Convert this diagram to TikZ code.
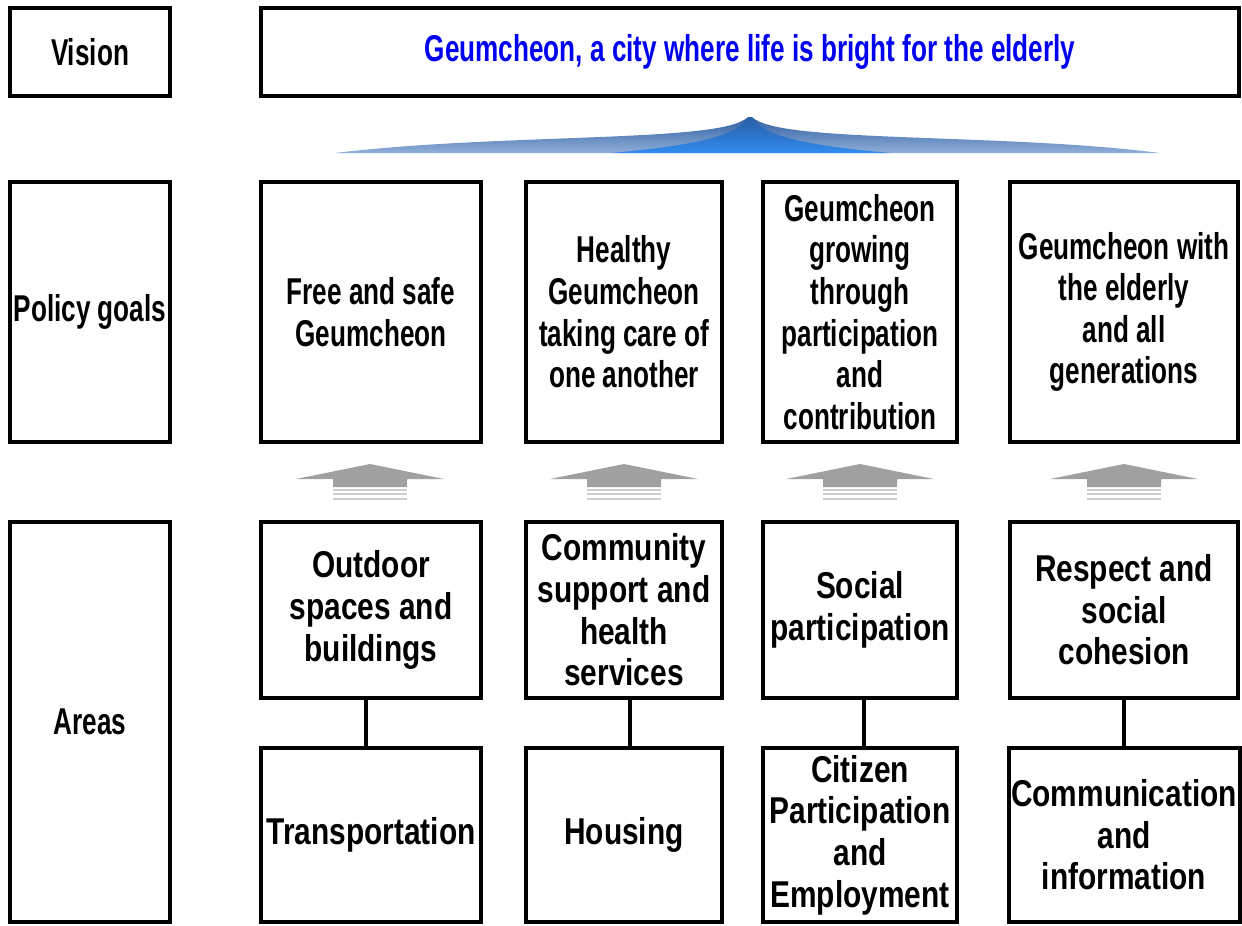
\documentclass[tikz,border=0pt]{standalone}
\usepackage{fontspec}
\newfontfamily\headfont[FakeStretch=0.70]{Liberation Sans Bold}
\newfontfamily\areafont[FakeStretch=0.80]{Liberation Sans Bold}
\usetikzlibrary{positioning}
\definecolor{visionblue}{RGB}{0, 0, 240}
\definecolor{swooshblue}{RGB}{50, 140, 240}
\definecolor{swooshdark}{RGB}{40, 90, 160}
\definecolor{swooshsteel}{RGB}{70, 120, 190}
\definecolor{arrowgray}{RGB}{160, 160, 160}
\definecolor{stripegray}{RGB}{205, 205, 205}
\tikzset{
  frame/.style={draw, line width=3pt, align=center, inner sep=2pt},
  goaltext/.style={font=\headfont\fontsize{28}{31.2}\selectfont},
  areatext/.style={font=\areafont\fontsize{28}{31.2}\selectfont},
  goalarrow/.pic={
    \fill[arrowgray] (0,464) -- (74,479) -- (37,479) -- (37,487) -- (-37,487) -- (-37,479) -- (-74,479) -- cycle;
    \foreach \y in {490,494,499} \draw[stripegray, line width=1.2pt] (-37,\y) -- (37,\y);
  }
}

\begin{document}
\begin{tikzpicture}[x=0.75pt, y=-0.75pt]
  \useasboundingbox (0,0) rectangle (1242,925);

  % Row labels
  \node[frame, goaltext, minimum width=120pt, minimum height=66pt] (vis) at (90,52) {Vision};
  \node[frame, goaltext, minimum width=120pt, minimum height=195pt] (pol) at (90,312) {Policy goals};
  \node[frame, goaltext, minimum width=120pt, minimum height=300pt] (are) at (90,722) {Areas};

  % Vision
  \node[frame, goaltext, text=visionblue, minimum width=733.5pt, minimum height=66pt] (visbox) at (750,52) {Geumcheon, a city where life is bright for the elderly};

  % Swoosh under the vision
  \shade[top color=swooshdark, bottom color=swooshsteel!60]
    (750,115) .. controls (740,128) and (700,133) .. (600,137) .. controls (500,141) and (420,143) .. (335,153)
    -- (1160,153) .. controls (1080,143) and (1000,141) .. (900,137) .. controls (800,133) and (760,128) .. (750,115) -- cycle;
  \shade[top color=swooshdark, bottom color=swooshblue]
    (750,115) .. controls (740,135) and (700,145) .. (611,153) -- (891,153) .. controls (800,145) and (760,135) .. (750,115) -- cycle;
  \shade[left color=white, middle color=black, right color=white] (463,113.5) rectangle (1018,116.5);

  % Policy goals
  \node[frame, goaltext, minimum width=165pt, minimum height=195pt] (g1) at (371,312) {Free and safe\\Geumcheon};
  \node[frame, goaltext, minimum width=147pt, minimum height=195pt] (g2) at (624,312) {Healthy\\Geumcheon\\taking care of\\one another};
  \node[frame, goaltext, minimum width=145.5pt, minimum height=195pt] (g3) at (860,312) {Geumcheon\\growing\\through\\participation\\and\\contribution};
  \node[frame, goaltext, minimum width=171pt, minimum height=195pt] (g4) at (1124,312) {Geumcheon with\\the elderly\\and all\\generations};

  % Arrows up to the goals
  \foreach \x in {370,624,860,1124}
    \pic at (\x,0) {goalarrow};

  % Areas, upper row
  \node[frame, areatext, minimum width=165pt, minimum height=132pt] (t1) at (371,610) {Outdoor\\spaces and\\buildings};
  \node[frame, areatext, minimum width=147pt, minimum height=132pt] (t2) at (624,610) {Community\\support and\\health\\services};
  \node[frame, areatext, minimum width=145.5pt, minimum height=132pt] (t3) at (860,610) {Social\\participation};
  \node[frame, areatext, minimum width=171pt, minimum height=132pt] (t4) at (1124,610) {Respect and\\social\\cohesion};

  % Areas, lower row
  \node[frame, areatext, minimum width=165pt, minimum height=130.5pt] (b1) at (371,835) {Transportation};
  \node[frame, areatext, minimum width=147pt, minimum height=130.5pt] (b2) at (624,835) {Housing};
  \node[frame, areatext, minimum width=145.5pt, minimum height=130.5pt] (b3) at (860,835) {Citizen\\Participation\\and\\Employment};
  \node[frame, areatext, minimum width=171pt, minimum height=130.5pt] (b4) at (1124,835) {Communication\\and\\information};

  \draw[line width=3pt] ([xshift=-3.75pt]t1.south) -- ([xshift=-3.75pt]b1.north);
  \draw[line width=3pt] ([xshift=4.5pt]t2.south) -- ([xshift=4.5pt]b2.north);
  \draw[line width=3pt] ([xshift=3pt]t3.south) -- ([xshift=3pt]b3.north);
  \draw[line width=3pt] (t4) -- (b4);
\end{tikzpicture}
\end{document}
